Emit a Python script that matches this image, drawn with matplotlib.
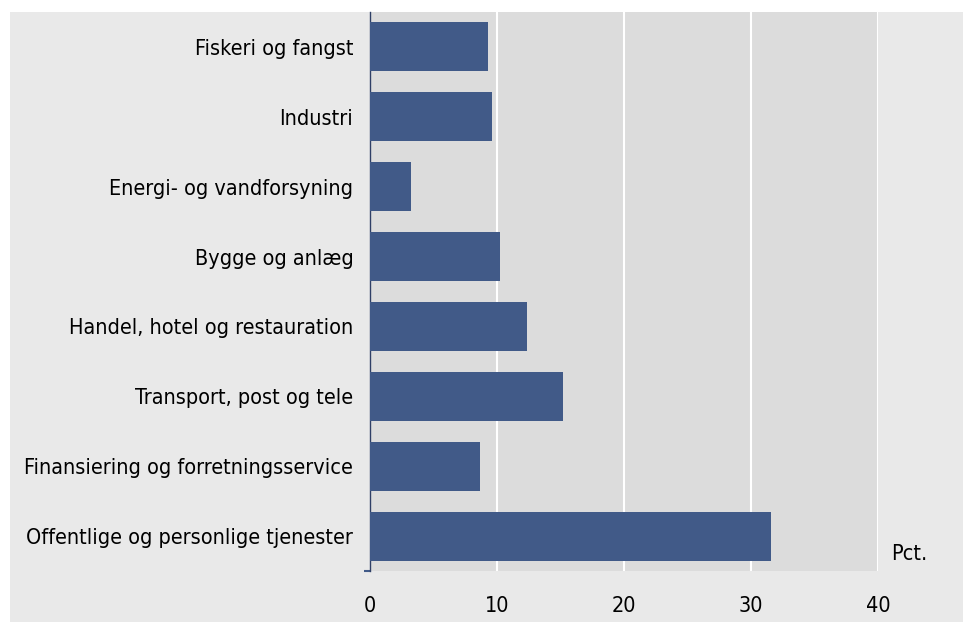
import matplotlib
matplotlib.use('Agg')
import matplotlib.pyplot as plt
from matplotlib.patches import Rectangle

plt.rcParams['font.family'] = ['DejaVu Sans']
plt.rcParams['font.stretch'] = 'condensed'

sectors = ['Fiskeri og fangst', 'Industri', 'Energi- og vandforsyning',
           'Bygge og anlæg', 'Handel, hotel og restauration',
           'Transport, post og tele', 'Finansiering og forretningsservice',
           'Offentlige og personlige tjenester']
values = [9.3, 9.6, 3.2, 10.2, 12.4, 15.2, 8.7, 31.6]
xticks = [0, 10, 20, 30, 40]

bar_color = '#415A88'
outer_bg = '#E9E9E9'
inner_bg = '#DCDCDC'

fig = plt.figure(figsize=(9.63, 6.22), dpi=100, facecolor='white')
fig.patches.append(Rectangle((10 / 963, 0), 1, 1 - 12 / 622, transform=fig.transFigure,
                             facecolor=outer_bg, edgecolor='none', zorder=-10))

ax = fig.add_axes([370 / 963, 1 - 571 / 622, (878 - 370) / 963, (571 - 12) / 622])
ax.set_facecolor(inner_bg)

pos = list(range(len(sectors)))
ax.barh(pos, values, height=0.7, color=bar_color, zorder=3)

ax.set_xlim(0, 40)
ax.set_ylim(len(sectors) - 0.5, -0.5)
ax.set_xticks(xticks)
ax.set_xticklabels([str(t) for t in xticks], fontsize=15.5)
ax.set_yticks(pos)
ax.set_yticklabels(sectors, fontsize=15.5)
ax.set_yticks([len(sectors) - 0.5], minor=True)

ax.xaxis.grid(True, color='white', linewidth=1.5, zorder=1)
ax.set_axisbelow(True)
ax.tick_params(axis='x', length=0, pad=18, colors='black')
ax.tick_params(axis='y', which='major', length=0, pad=12)
ax.tick_params(axis='y', which='minor', length=4, color='#415A88', width=1.5)

for side in ['top', 'right', 'bottom']:
    ax.spines[side].set_visible(False)
ax.spines['left'].set_color('#2F3F66')
ax.spines['left'].set_linewidth(1)

ax.text(1.025, 0.03, 'Pct.', transform=ax.transAxes, fontsize=15.5, ha='left', va='center')

fig.savefig('out.png', dpi=100, facecolor=fig.get_facecolor())
